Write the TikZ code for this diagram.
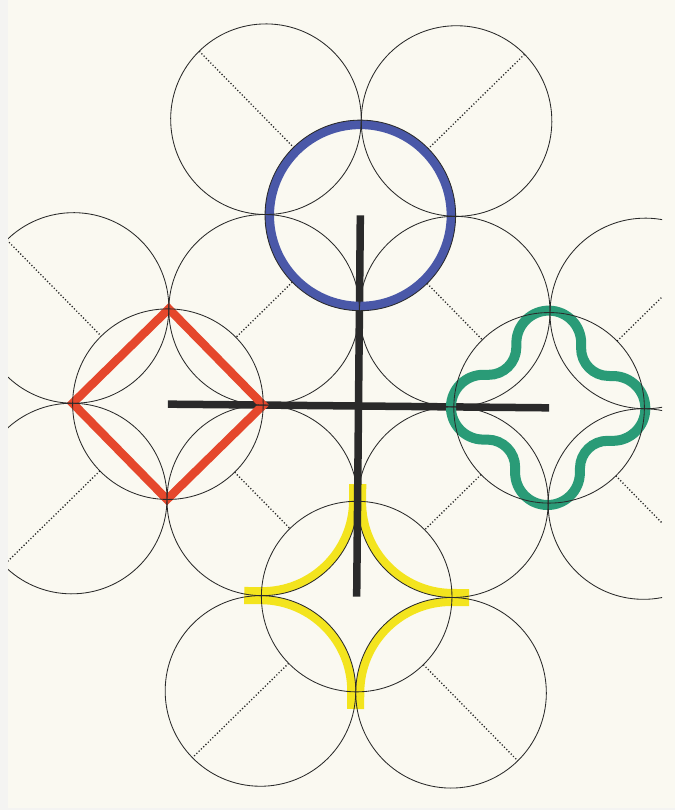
\documentclass[tikz,border=0pt]{standalone}
\definecolor{paper}{HTML}{FAF9F1}
\definecolor{edgecol}{HTML}{F4F4F2}
\definecolor{cblue}{HTML}{4A58A8}
\definecolor{cred}{HTML}{E5472C}
\definecolor{cgreen}{HTML}{2A9B77}
\definecolor{cyellow}{HTML}{F3E41E}
\definecolor{ink}{HTML}{2A2A2A}
\begin{document}
\begin{tikzpicture}[x=1pt,y=1pt,
  thincirc/.style={draw=ink, line width=0.85pt},
  dotline/.style={draw=ink, line width=1.3pt, dash pattern=on 1.2pt off 2pt},
  yel/.style={draw=cyellow, line width=8.5pt},
  crossbar/.style={draw=ink, line width=7.5pt}]
\useasboundingbox (0,0) rectangle (675,810);
\fill[edgecol] (0,0) rectangle (675,810);
\fill[paper] (8,2) rectangle (675,810);
\begin{scope}
\clip (8,0) rectangle (662,810);
\begin{scope}[shift={(358.5pt,404pt)}, rotate=-0.55, x=95.3pt, y=95.3pt]
  % yellow star
  \draw[yel] (-0.045,-0.82) -- (-0.045,-1) arc[start angle=0,end angle=-90,radius=0.955] -- (-1.18,-1.955);
  \draw[yel] (0.045,-0.82) -- (0.045,-1) arc[start angle=180,end angle=270,radius=0.955] -- (1.18,-1.955);
  \draw[yel] (-0.045,-3.18) -- (-0.045,-3) arc[start angle=0,end angle=90,radius=0.955] -- (-1.18,-2.045);
  \draw[yel] (0.045,-3.18) -- (0.045,-3) arc[start angle=180,end angle=90,radius=0.955] -- (1.18,-2.045);
  % black cross
  \coordinate (bc) at (0,2);
  \coordinate (yc) at (0,-2);
  \coordinate (rc) at (-2,0);
  \coordinate (gc) at (2,0);
  \draw[crossbar] (bc) -- (yc);
  \draw[crossbar] (rc) -- (gc);
  % red square
  \draw[cred, line width=8.5pt, line join=miter] (-2,1) -- (-1,0) -- (-2,-1) -- (-3,0) -- cycle;
  % green rounded cross
  \begin{scope}[shift={(1.99,0)}]
    \draw[cgreen, line width=10pt] (0.34,0.68)
      arc[start angle=0, end angle=180, radius=0.34]
      -- (-0.34,0.63)
      arc[start angle=0, end angle=-90, radius=0.29]
      -- (-0.68,0.34)
      arc[start angle=90, end angle=270, radius=0.34]
      -- (-0.63,-0.34)
      arc[start angle=90, end angle=0, radius=0.29]
      -- (-0.34,-0.68)
      arc[start angle=180, end angle=360, radius=0.34]
      -- (0.34,-0.63)
      arc[start angle=180, end angle=90, radius=0.29]
      -- (0.68,-0.34)
      arc[start angle=-90, end angle=90, radius=0.34]
      -- (0.63,0.34)
      arc[start angle=270, end angle=180, radius=0.29]
      -- cycle;
  \end{scope}
  % blue circle
  \draw[cblue, line width=9pt] (bc) circle[radius=0.953];
  % thin circles
  \foreach \cx/\cy in {-1/3,1/3,0/2,-3/1,-1/1,1/1,3/1,-2/0,2/0,-3/-1,-1/-1,1/-1,3/-1,0/-2,-1/-3,1/-3}
    \draw[thincirc] (\cx,\cy) circle[radius=1];
  % dotted diagonals
  \def\a{0.7071}
  \draw[dotline] ({-1-\a},{3+\a}) -- ({-\a},{2+\a});
  \draw[dotline] ({1+\a},{3+\a}) -- ({\a},{2+\a});
  \draw[dotline] ({-3-\a},{1+\a}) -- ({-2-\a},{\a});
  \draw[dotline] ({-\a},{2-\a}) -- ({-2+\a},{\a});
  \draw[dotline] ({\a},{2-\a}) -- ({2-\a},{\a});
  \draw[dotline] ({2+\a},{\a}) -- ({3+\a},{1+\a});
  \draw[dotline] ({-2-\a},{-\a}) -- ({-3-\a},{-1-\a});
  \draw[dotline] ({-2+\a},{-\a}) -- ({-\a},{-2+\a});
  \draw[dotline] ({2-\a},{-\a}) -- ({\a},{-2+\a});
  \draw[dotline] ({2+\a},{-\a}) -- ({3+\a},{-1-\a});
  \draw[dotline] ({-\a},{-2-\a}) -- ({-1-\a},{-3-\a});
  \draw[dotline] ({\a},{-2-\a}) -- ({1+\a},{-3-\a});
\end{scope}
\end{scope}
\end{tikzpicture}
\end{document}
